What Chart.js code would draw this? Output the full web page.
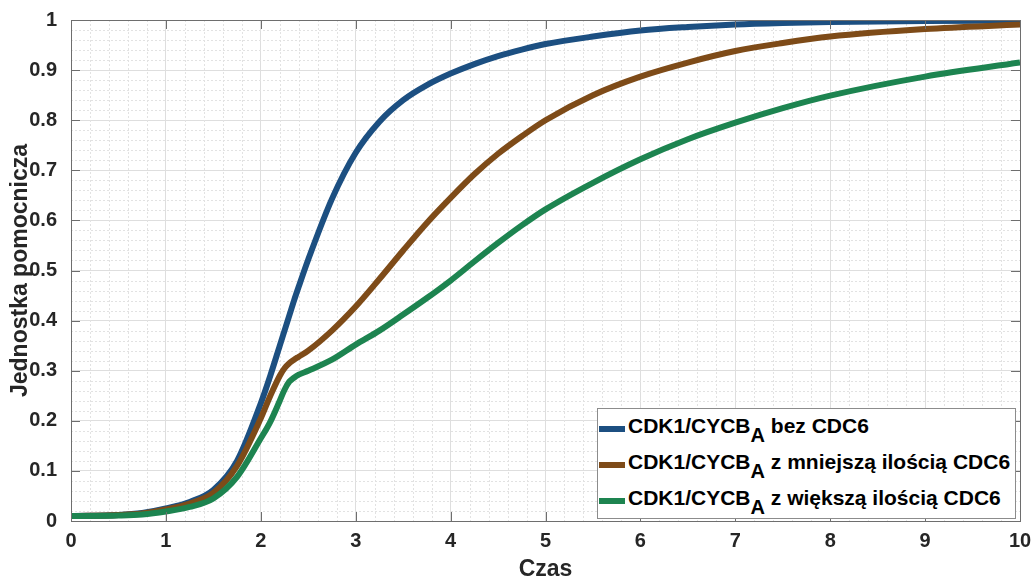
<!DOCTYPE html>
<html>
<head>
<meta charset="utf-8">
<script src="https://cdn.jsdelivr.net/npm/chart.js@4/dist/chart.umd.min.js"></script>
<style>
html,body{margin:0;padding:0;background:#fff;}
#wrap{position:relative;width:1032px;height:581px;}
canvas{display:block;}
#legend{
position:absolute;left:597px;top:408px;width:417px;height:109px;
border:1px solid #8c8c8c;background:#fff;
font:bold 21px "Liberation Sans",Arial,sans-serif;color:#000;
}
.row{position:absolute;left:1px;height:36px;display:flex;align-items:center;white-space:nowrap;}
.swatch{width:26px;height:6px;margin-top:6px;margin-right:3px;}
.row sub{font-size:20px;vertical-align:-9px;line-height:0;}
</style>
</head>
<body>
<div id="wrap">
<canvas id="wykres" width="1032" height="581"></canvas>
<div id="legend">
<div class="row" style="top:-1px"><div class="swatch" style="background:#1c4f81"></div><span>CDK1/CYCB<sub>A</sub> bez CDC6</span></div>
<div class="row" style="top:35px"><div class="swatch" style="background:#7e4b18"></div><span>CDK1/CYCB<sub>A</sub> z mniejszą ilością CDC6</span></div>
<div class="row" style="top:71px"><div class="swatch" style="background:#1d8450"></div><span>CDK1/CYCB<sub>A</sub> z większą ilością CDC6</span></div>
</div>
</div>
<script>
// czas symulacji
const czas = [0,0.5,0.75,1,1.25,1.5,1.75,2,2.1,2.2,2.25,2.3,2.35,2.4,2.5,2.75,3,3.25,3.5,3.75,4,4.25,4.5,4.75,5,5.5,6,6.5,7,7.5,8,9,10];

// CDK1/CYCB_A bez CDC6
const bezCdc6 = [0.010,0.012,0.016,0.025,0.038,0.062,0.12,0.235,0.29,0.35,0.38,0.41,0.44,0.468,0.522,0.643,0.735,0.797,0.84,0.87,0.893,0.912,0.928,0.941,0.952,0.967,0.979,0.986,0.991,0.994,0.996,0.998,0.999];

// CDK1/CYCB_A z mniejszą ilością CDC6
const mniejszaCdc6 = [0.010,0.012,0.015,0.023,0.035,0.056,0.11,0.205,0.25,0.29,0.305,0.315,0.322,0.328,0.34,0.38,0.428,0.483,0.54,0.595,0.645,0.692,0.733,0.768,0.80,0.85,0.887,0.915,0.938,0.954,0.967,0.982,0.991];

// CDK1/CYCB_A z większą ilością CDC6
const wiekszaCdc6 = [0.010,0.011,0.013,0.019,0.028,0.045,0.088,0.165,0.198,0.24,0.262,0.278,0.286,0.292,0.30,0.322,0.352,0.38,0.412,0.445,0.48,0.518,0.555,0.59,0.622,0.675,0.722,0.762,0.795,0.824,0.849,0.887,0.915];

const etykiety = [
"CDK1/CYCB_A bez CDC6",
"CDK1/CYCB_A z mniejszą ilością CDC6",
"CDK1/CYCB_A z większą ilością CDC6"
];

const kolory = ["#1c4f81","#7e4b18","#1d8450"];

const krokX = 1, krokY = 0.1;
const krokPomocniczyX = 0.2, krokPomocniczyY = 0.02;

const FONT = "'Liberation Sans', Arial, sans-serif";

function punkty(wartosci){
return czas.map((t,i)=>({x:t,y:wartosci[i]}));
}

// siatka pomocnicza, ramka i znaczniki skierowane do środka
const ramka = {
id:"ramka",
beforeDatasetsDraw(chart){
const {ctx, chartArea:a, scales:{x,y}} = chart;
ctx.save();
ctx.strokeStyle = "#e2e2e2";
ctx.lineWidth = 1;
ctx.setLineDash([2,2]);
ctx.beginPath();
const nx = Math.round((x.max-x.min)/krokPomocniczyX);
for(let i=1;i<nx;i++){
if(i%5===0) continue;
const px = Math.round(x.getPixelForValue(x.min+i*krokPomocniczyX))+0.5;
ctx.moveTo(px,a.top); ctx.lineTo(px,a.bottom);
}
const ny = Math.round((y.max-y.min)/krokPomocniczyY);
for(let i=1;i<ny;i++){
if(i%5===0) continue;
const py = Math.round(y.getPixelForValue(y.min+i*krokPomocniczyY))+0.5;
ctx.moveTo(a.left,py); ctx.lineTo(a.right,py);
}
ctx.stroke();
ctx.restore();
},
afterDatasetsDraw(chart){
const {ctx, chartArea:a, scales:{x,y}} = chart;
const L = 9;
ctx.save();
ctx.strokeStyle = "#6e6e6e";
ctx.lineWidth = 1;
ctx.beginPath();
x.ticks.forEach(t=>{
const px = Math.round(x.getPixelForValue(t.value))+0.5;
ctx.moveTo(px,a.top); ctx.lineTo(px,a.top+L);
ctx.moveTo(px,a.bottom); ctx.lineTo(px,a.bottom-L);
});
y.ticks.forEach(t=>{
const py = Math.round(y.getPixelForValue(t.value))+0.5;
ctx.moveTo(a.left,py); ctx.lineTo(a.left+L,py);
ctx.moveTo(a.right,py); ctx.lineTo(a.right-L,py);
});
ctx.stroke();
ctx.strokeRect(Math.round(a.left)+0.5,Math.round(a.top)+0.5,Math.round(a.right-a.left),Math.round(a.bottom-a.top));
ctx.restore();
}
};

const tickFont = {family:FONT,size:20,weight:"bold"};
const titleFont = {family:FONT,size:23,weight:"bold",lineHeight:1};

new Chart(
document.getElementById("wykres"),
{
type:"line",
data:{
datasets:[
{label:etykiety[0],data:punkty(bezCdc6),borderColor:kolory[0],order:2},
{label:etykiety[1],data:punkty(mniejszaCdc6),borderColor:kolory[1],order:1},
{label:etykiety[2],data:punkty(wiekszaCdc6),borderColor:kolory[2],order:0}
]
},
options:{
responsive:false,
animation:false,
layout:{padding:{top:20,right:12,left:0,bottom:0}},
elements:{
point:{radius:0},
line:{borderWidth:6,cubicInterpolationMode:"monotone",borderCapStyle:"butt",fill:false}
},
plugins:{legend:{display:false},tooltip:{enabled:false}},
scales:{
x:{
type:"linear",min:0,max:10,
ticks:{stepSize:krokX,padding:8,color:"#262626",font:tickFont,maxRotation:0,autoSkip:false},
grid:{color:"#dedede",drawTicks:false},
border:{display:false},
title:{display:true,text:"Czas",color:"#262626",font:titleFont,padding:{top:0,bottom:0}},
afterFit(s){s.height=60;s.paddingLeft=0;s.paddingRight=0;}
},
y:{
type:"linear",min:0,max:1,
ticks:{stepSize:krokY,padding:14,color:"#262626",font:tickFont,callback:v=>String(Number(v.toFixed(1)))},
grid:{color:"#dedede",drawTicks:false},
border:{display:false},
title:{display:true,text:"Jednostka pomocnicza",color:"#262626",font:titleFont,padding:{top:9,bottom:0}},
afterFit(s){s.width=71;s.paddingTop=0;s.paddingBottom=0;}
}
}
},
plugins:[ramka]
}
);
</script>
</body>
</html>
